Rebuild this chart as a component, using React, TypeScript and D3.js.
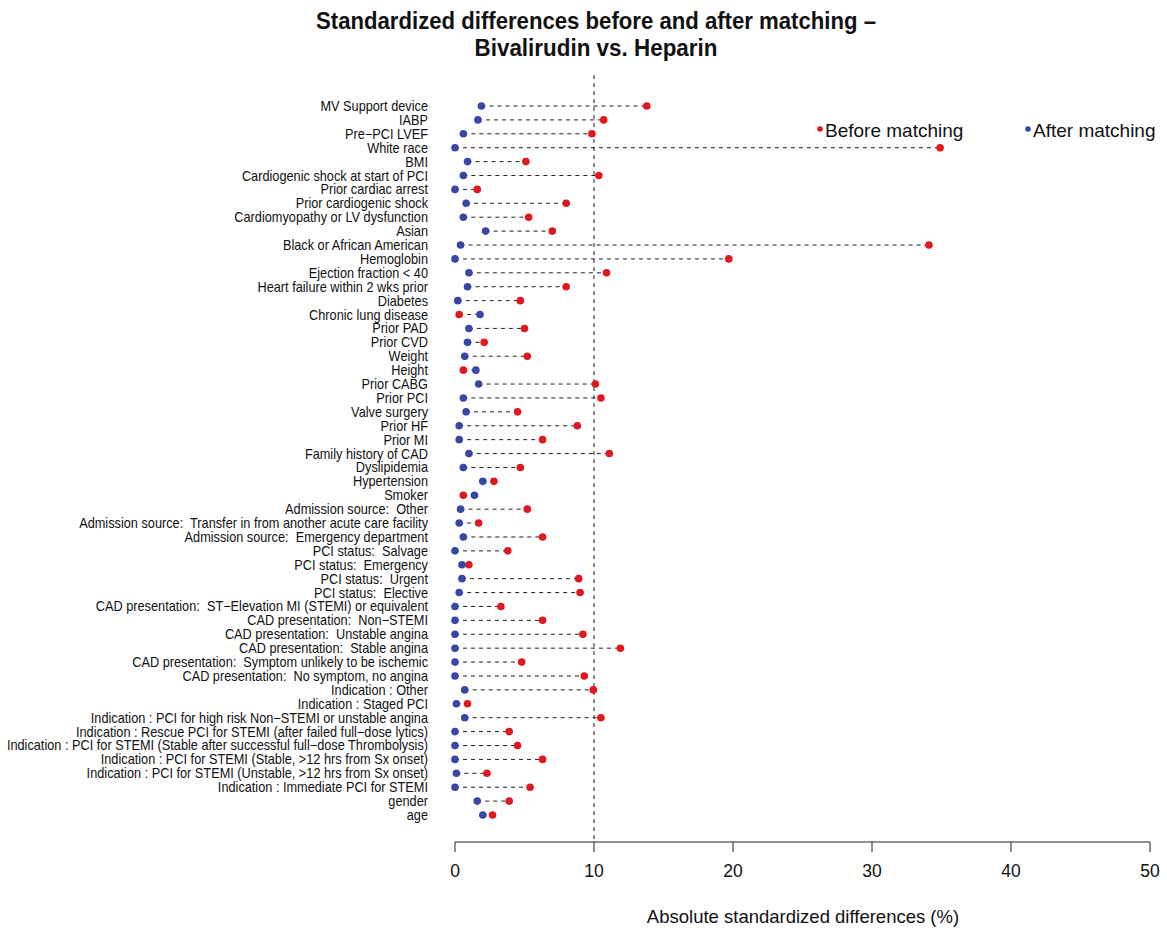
import React from "react";
import * as d3 from "d3";

const labels: string[] = [
  "MV Support device",
  "IABP",
  "Pre\u2212PCI LVEF",
  "White race",
  "BMI",
  "Cardiogenic shock at start of PCI",
  "Prior cardiac arrest",
  "Prior cardiogenic shock",
  "Cardiomyopathy or LV dysfunction",
  "Asian",
  "Black or African American",
  "Hemoglobin",
  "Ejection fraction < 40",
  "Heart failure within 2 wks prior",
  "Diabetes",
  "Chronic lung disease",
  "Prior PAD",
  "Prior CVD",
  "Weight",
  "Height",
  "Prior CABG",
  "Prior PCI",
  "Valve surgery",
  "Prior HF",
  "Prior MI",
  "Family history of CAD",
  "Dyslipidemia",
  "Hypertension",
  "Smoker",
  "Admission source:  Other",
  "Admission source:  Transfer in from another acute care facility",
  "Admission source:  Emergency department",
  "PCI status:  Salvage",
  "PCI status:  Emergency",
  "PCI status:  Urgent",
  "PCI status:  Elective",
  "CAD presentation:  ST\u2212Elevation MI (STEMI) or equivalent",
  "CAD presentation:  Non\u2212STEMI",
  "CAD presentation:  Unstable angina",
  "CAD presentation:  Stable angina",
  "CAD presentation:  Symptom unlikely to be ischemic",
  "CAD presentation:  No symptom, no angina",
  "Indication : Other",
  "Indication : Staged PCI",
  "Indication : PCI for high risk Non\u2212STEMI or unstable angina",
  "Indication : Rescue PCI for STEMI (after failed full\u2212dose lytics)",
  "Indication : PCI for STEMI (Stable after successful full\u2212dose Thrombolysis)",
  "Indication : PCI for STEMI (Stable, >12 hrs from Sx onset)",
  "Indication : PCI for STEMI (Unstable, >12 hrs from Sx onset)",
  "Indication : Immediate PCI for STEMI",
  "gender",
  "age",
];

const beforeMatching: number[] = [
  13.8, 10.7, 9.85, 34.9, 5.1, 10.35, 1.6, 8.0, 5.3, 7.0, 34.1, 19.7,
  10.9, 8.0, 4.7, 0.3, 5.0, 2.1, 5.2, 0.6, 10.1, 10.5, 4.5, 8.8, 6.3, 11.1,
  4.7, 2.8, 0.6, 5.2, 1.7, 6.3, 3.8, 1.0, 8.9, 9.0, 3.3, 6.3, 9.2, 11.9,
  4.8, 9.3, 9.95, 0.9, 10.5, 3.9, 4.5, 6.3, 2.3, 5.4, 3.9, 2.7,
];

const afterMatching: number[] = [
  1.9, 1.65, 0.6, 0.0, 0.9, 0.6, 0.0, 0.8, 0.6, 2.2, 0.4, 0.0,
  1.0, 0.9, 0.2, 1.8, 1.0, 0.9, 0.7, 1.5, 1.7, 0.6, 0.8, 0.3, 0.3, 1.0,
  0.6, 2.0, 1.4, 0.4, 0.3, 0.6, 0.0, 0.5, 0.5, 0.3, 0.0, 0.0, 0.0, 0.0,
  0.0, 0.0, 0.7, 0.1, 0.7, 0.0, 0.0, 0.0, 0.1, 0.0, 1.6, 2.0,
];

const xTicks: number[] = [0, 10, 20, 30, 40, 50];
const threshold = 10;

const RED = "#e0181f";
const BLUE = "#3647a6";
const FONT = "'Liberation Sans', Arial, Helvetica, sans-serif";

export default function App() {
  const W = 1167;
  const H = 934;
  const x = d3.scaleLinear().domain([0, 50]).range([455, 1150]);
  const y = d3.scalePoint<string>().domain(labels).range([106, 815]);
  const axisY = 842;
  const labelX = 428;

  return (
    <div style={{ position: "absolute", left: 0, top: 0 }}>
      <svg width={W} height={H} style={{ display: "block", background: "#fff" }}>
        <text
          x={596}
          y={29}
          textAnchor="middle"
          fontFamily={FONT}
          fontWeight="bold"
          fontSize={23}
          textLength={560}
          lengthAdjust="spacingAndGlyphs"
          fill="#111"
        >
          Standardized differences before and after matching –
        </text>
        <text
          x={596}
          y={56}
          textAnchor="middle"
          fontFamily={FONT}
          fontWeight="bold"
          fontSize={23}
          textLength={243}
          lengthAdjust="spacingAndGlyphs"
          fill="#111"
        >
          Bivalirudin vs. Heparin
        </text>

        {/* threshold line */}
        <line
          x1={x(threshold)}
          x2={x(threshold)}
          y1={75}
          y2={axisY}
          stroke="#222"
          strokeWidth={1}
          strokeDasharray="4,4"
        />

        <g transform={`translate(${labelX},0) scale(0.91,1)`}>
          {labels.map((lab) => (
            <text
              key={lab}
              x={0}
              y={(y(lab) as number) + 5}
              textAnchor="end"
              fontFamily={FONT}
              fontSize={14}
              fill="#111"
              style={{ whiteSpace: "pre" }}
            >
              {lab}
            </text>
          ))}
        </g>

        {labels.map((lab, i) => {
          const yy = y(lab) as number;
          const a = afterMatching[i];
          const b = beforeMatching[i];
          return (
            <g key={lab}>
              <line
                x1={x(Math.min(a, b))}
                x2={x(Math.max(a, b))}
                y1={yy}
                y2={yy}
                stroke="#222"
                strokeWidth={1}
                strokeDasharray="4,4"
              />
              <circle cx={x(b)} cy={yy} r={3.8} fill={RED} />
              <circle cx={x(a)} cy={yy} r={3.8} fill={BLUE} />
            </g>
          );
        })}

        {/* x axis */}
        <line x1={x(0)} x2={x(50)} y1={axisY} y2={axisY} stroke="#222" strokeWidth={1} />
        {xTicks.map((t) => (
          <g key={t}>
            <line x1={x(t)} x2={x(t)} y1={axisY} y2={axisY + 10} stroke="#222" strokeWidth={1} />
            <text
              x={x(t)}
              y={axisY + 35}
              textAnchor="middle"
              fontFamily={FONT}
              fontSize={17.5}
              fill="#111"
            >
              {t}
            </text>
          </g>
        ))}
        <text
          x={803}
          y={923}
          textAnchor="middle"
          fontFamily={FONT}
          fontSize={18.5}
          fill="#111"
        >
          Absolute standardized differences (%)
        </text>

        {/* legend */}
        <circle cx={820} cy={129} r={2.8} fill={RED} />
        <text x={825} y={137} fontFamily={FONT} fontSize={19} fill="#111">
          Before matching
        </text>
        <circle cx={1028} cy={129} r={2.8} fill={BLUE} />
        <text x={1033} y={137} fontFamily={FONT} fontSize={19} fill="#111">
          After matching
        </text>
      </svg>
    </div>
  );
}
